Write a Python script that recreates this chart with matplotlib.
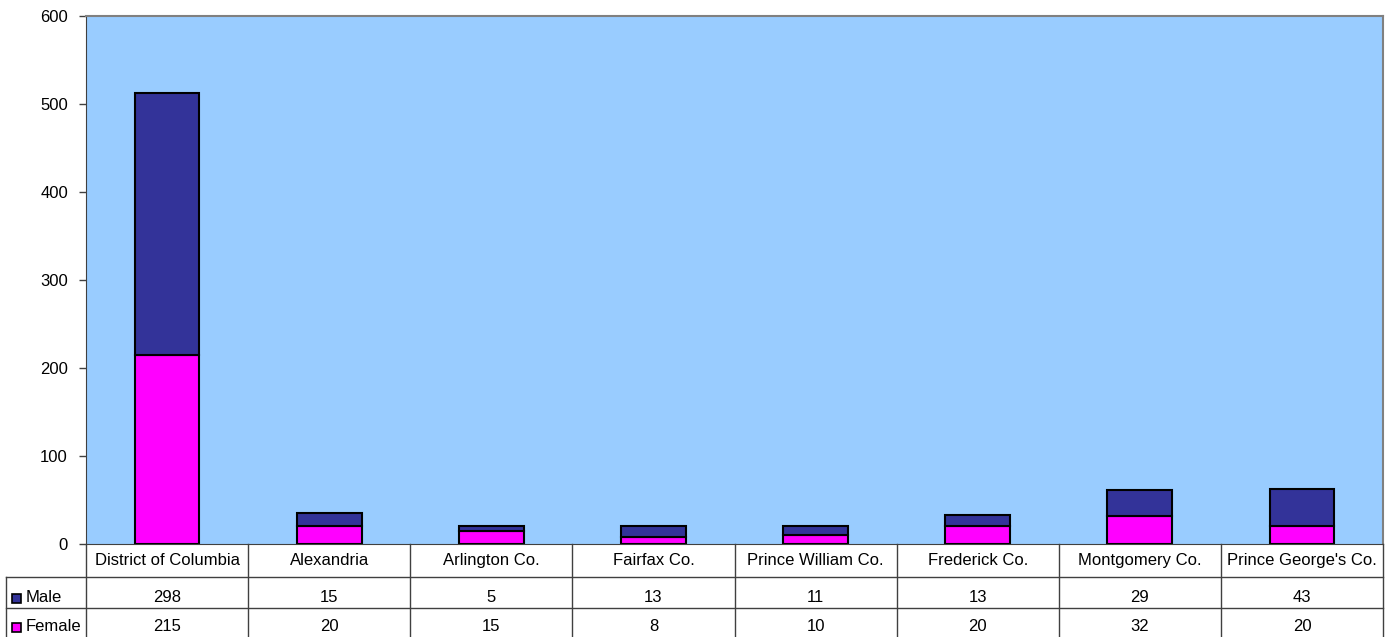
import numpy as np
import matplotlib
matplotlib.use('Agg')
import matplotlib.pyplot as plt
from matplotlib.patches import Rectangle

plt.rcParams['font.family'] = ['Liberation Sans', 'DejaVu Sans']

CATEGORIES = ['District of Columbia', 'Alexandria', 'Arlington Co.', 'Fairfax Co.',
              'Prince William Co.', 'Frederick Co.', 'Montgomery Co.', "Prince George's Co."]
MALE = [298, 15, 5, 13, 11, 13, 29, 43]
FEMALE = [215, 20, 15, 8, 10, 20, 32, 20]
SERIES = [('Male', MALE, '#333399'), ('Female', FEMALE, '#FF00FF')]

W, H = 1385, 637
fig = plt.figure(figsize=(W / 100, H / 100), dpi=100)

# plot area in pixel coords
L, R, T, B = 86, 1383, 16, 544
ax = fig.add_axes([L / W, (H - B) / H, (R - L) / W, (B - T) / H])
ax.set_facecolor('#99CCFF')

x = np.arange(len(CATEGORIES))
ax.bar(x, FEMALE, width=0.4, color='#FF00FF', edgecolor='black', linewidth=1.5)
ax.bar(x, MALE, width=0.4, bottom=FEMALE, color='#333399', edgecolor='black', linewidth=1.5)

ax.set_xlim(-0.5, len(CATEGORIES) - 0.5)
ax.set_ylim(0, 600)
ax.set_yticks(range(0, 601, 100))
ax.set_xticks([])
ax.tick_params(axis='y', labelsize=12, length=5, width=1, color='#404040', pad=8)
for side in ['top', 'right']:
    ax.spines[side].set_color('#808080')
    ax.spines[side].set_linewidth(1.5)
ax.spines['left'].set_color('#404040')
ax.spines['bottom'].set_color('#404040')

# data table below the plot
tab = fig.add_axes([0, 0, 1, 1], facecolor='none')
tab.set_xlim(0, W)
tab.set_ylim(H, 0)
tab.axis('off')

col_w = (R - L) / len(CATEGORIES)
row_y = [B, 577, 608, H]
line_kw = dict(color='#404040', linewidth=1)

tab.plot([6, R], [row_y[1], row_y[1]], **line_kw)
tab.plot([6, R], [row_y[2], row_y[2]], **line_kw)
tab.plot([6, 6], [row_y[1], H], **line_kw)
for i in range(len(CATEGORIES) + 1):
    xx = L + i * col_w
    tab.plot([xx, xx], [B, H], **line_kw)

txt_kw = dict(ha='center', va='baseline', fontsize=12)
for i, cat in enumerate(CATEGORIES):
    cx = L + (i + 0.5) * col_w
    tab.text(cx, row_y[1] - 12, cat, **txt_kw)
    for r, (name, vals, color) in enumerate(SERIES):
        tab.text(cx, row_y[r + 2] - 6, str(vals[i]), **txt_kw)

for r, (name, vals, color) in enumerate(SERIES):
    cy = row_y[r + 2] - 10
    tab.add_patch(Rectangle((12, cy - 4), 9, 9, facecolor=color,
                            edgecolor='black', linewidth=1.2))
    tab.text(26, row_y[r + 2] - 6, name, ha='left', va='baseline', fontsize=12)

fig.savefig('out.png', dpi=100)
